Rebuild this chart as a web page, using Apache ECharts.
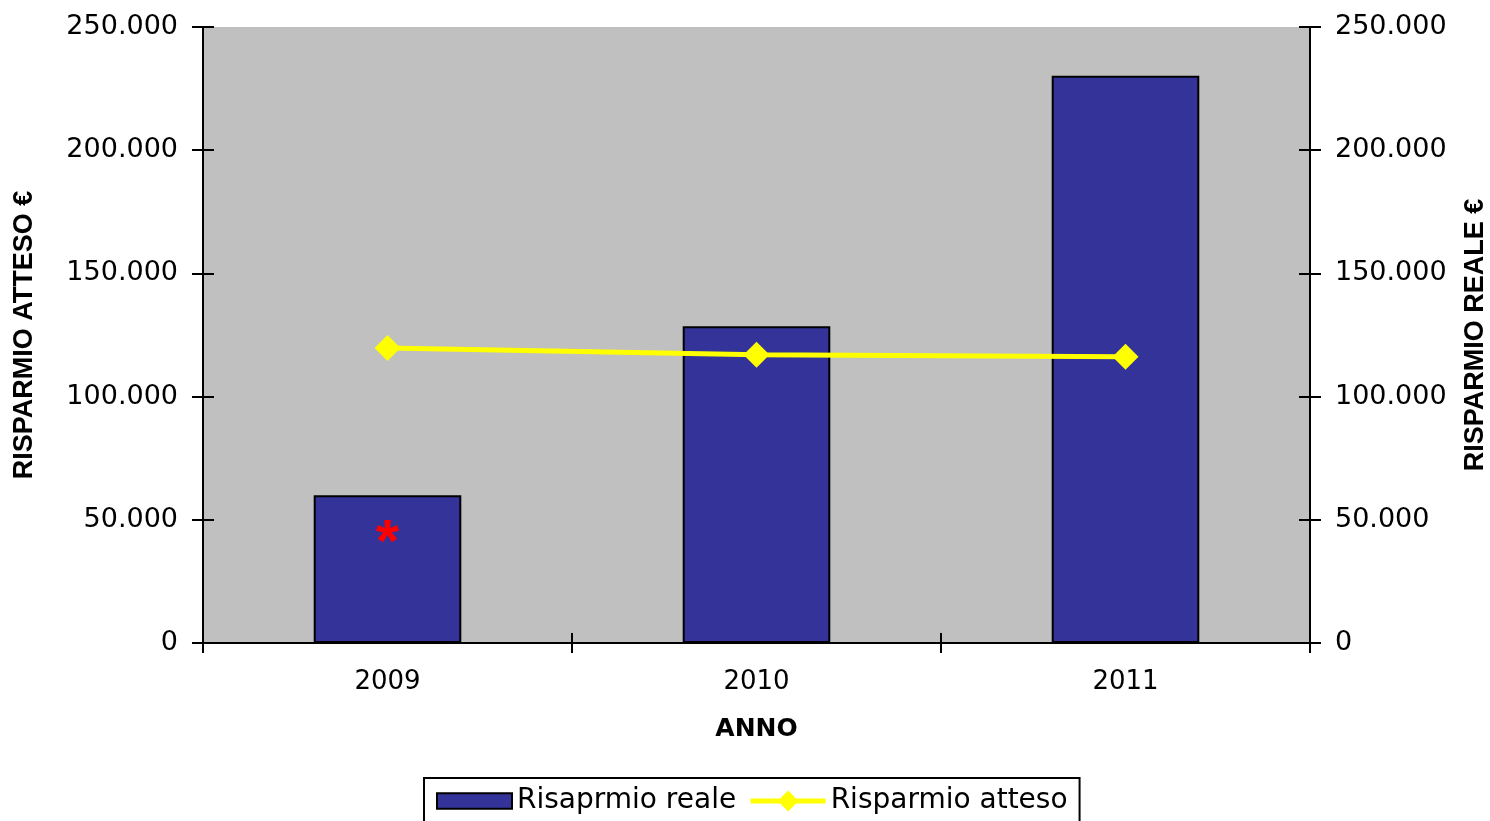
<!DOCTYPE html>
<html>
<head>
<meta charset="utf-8">
<script src="https://cdn.jsdelivr.net/npm/echarts@6/dist/echarts.min.js"></script>
<style>
  html, body { margin: 0; padding: 0; background: #fff; }
  #chart { width: 1490px; height: 821px; }
</style>
</head>
<body>
<div id="chart"></div>
<script>
// dati
const anni = ['2009', '2010', '2011'];
const risparmioReale = [60000, 128600, 230200];
const risparmioAtteso = [119700, 117000, 116200];
const notaAnno = '2009';
const notaValore = 40000;

const font = 'Liberation Sans, Arial, sans-serif';
const fontLarga = 'DejaVu Sans, Liberation Sans, sans-serif';
const fmt = v => v === 0 ? '0' : String(v).replace(/\B(?=(\d{3})+(?!\d))/g, '.');

const chart = echarts.init(document.getElementById('chart'));

// asse y "pieno", con etichette e tacche esterne
const yBase = (pos, name, gap) => ({
  type: 'value',
  position: pos,
  min: 0,
  max: 250000,
  interval: 50000,
  name: name,
  nameLocation: 'middle',
  nameRotate: 90,
  nameGap: gap,
  nameTextStyle: { fontFamily: font, fontSize: 27, fontWeight: 'bold', color: '#000' },
  axisLine: { show: true, lineStyle: { color: '#000', width: 2 } },
  axisTick: { show: true, inside: false, length: 11, lineStyle: { color: '#000', width: 2 } },
  axisLabel: { fontFamily: fontLarga, fontSize: 27, color: '#000', margin: 25, formatter: fmt },
  splitLine: { show: false }
});
// asse y solo per le tacche interne
const yInside = pos => ({
  type: 'value',
  position: pos,
  min: 0,
  max: 250000,
  interval: 50000,
  axisLine: { show: false },
  axisTick: { show: true, inside: true, length: 11, lineStyle: { color: '#000', width: 2 } },
  axisLabel: { show: false },
  splitLine: { show: false }
});

chart.setOption({
  animation: false,
  textStyle: { fontFamily: font },
  grid: {
    left: 203, right: 180, top: 27, bottom: 178,
    outerBoundsMode: 'none',
    show: true, backgroundColor: '#c0c0c0', borderWidth: 0
  },
  legend: {
    top: 778,
    left: 424,
    padding: [9, 12, 9, 12],
    borderColor: '#000',
    borderWidth: 2,
    itemWidth: 75,
    itemHeight: 26,
    itemGap: 12,
    textStyle: { fontFamily: fontLarga, fontSize: 28, color: '#000' },
    lineStyle: { width: 5 },
    data: [
      { name: 'Risaprmio reale', icon: 'path://M0,0L67,0L67,14L0,14Z' },
      { name: 'Risparmio atteso' }
    ]
  },
  xAxis: [
    {
      type: 'category',
      data: anni,
      name: 'ANNO',
      nameLocation: 'middle',
      nameGap: 74,
      nameTextStyle: { fontFamily: fontLarga, fontSize: 25, fontWeight: 'bold', color: '#000' },
      axisLine: { lineStyle: { color: '#000', width: 2 } },
      axisTick: { show: true, inside: false, length: 10, lineStyle: { color: '#000', width: 2 } },
      axisLabel: { fontFamily: fontLarga, fontSize: 26, color: '#000', margin: 26 }
    },
    {
      type: 'category',
      data: anni,
      position: 'bottom',
      axisLine: { show: false },
      axisTick: { show: true, inside: true, length: 10, lineStyle: { color: '#000', width: 2 } },
      axisLabel: { show: false }
    }
  ],
  yAxis: [
    yBase('left', 'RISPARMIO ATTESO €', 165),
    yBase('right', 'RISPARMIO REALE €', 152),
    yInside('left'),
    yInside('right')
  ],
  series: [
    {
      name: 'Risaprmio reale',
      type: 'bar',
      yAxisIndex: 1,
      barWidth: '40%',
      data: risparmioReale,
      itemStyle: { color: '#333399', borderColor: '#000', borderWidth: 2 },
      markPoint: {
        symbol: 'circle',
        symbolSize: 1,
        itemStyle: { color: 'rgba(0,0,0,0)' },
        label: {
          show: true,
          formatter: '*',
          color: '#ff0000',
          fontSize: 60,
          fontWeight: 'bold',
          fontFamily: font
        },
        data: [{ coord: [notaAnno, notaValore] }]
      }
    },
    {
      name: 'Risparmio atteso',
      type: 'line',
      yAxisIndex: 0,
      data: risparmioAtteso,
      symbol: 'diamond',
      symbolSize: 26,
      lineStyle: { color: '#ffff00', width: 5 },
      itemStyle: { color: '#ffff00' }
    }
  ]
});
</script>
</body>
</html>
